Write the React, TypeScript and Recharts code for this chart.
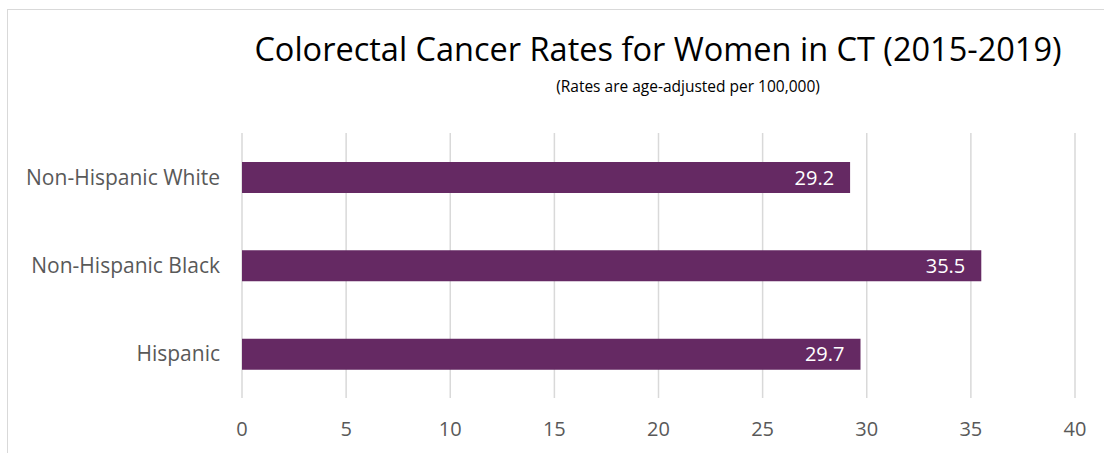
import React from "react";
import { BarChart, Bar, XAxis, YAxis, CartesianGrid, LabelList } from "recharts";

const categories = ["Non-Hispanic White", "Non-Hispanic Black", "Hispanic"];
const rates = [29.2, 35.5, 29.7];
const xTicks = [0, 5, 10, 15, 20, 25, 30, 35, 40];
const title = "Colorectal Cancer Rates for Women in CT (2015-2019)";
const subtitle = "(Rates are age-adjusted per 100,000)";

const data = categories.map((c, i) => ({ name: c, value: rates[i] }));

const FONT = "'Open Sans', 'Noto Sans', sans-serif";

export default function App() {
  return (
    <div style={{ position: "absolute", left: 0, top: 0, width: 1104, height: 453, background: "#fff", overflow: "hidden", fontFamily: FONT }}>
      <div style={{ position: "absolute", left: 7, top: 9, width: 1110, height: 460, border: "1.5px solid #d9d9d9", boxSizing: "border-box" }} />
      <BarChart
        width={1104}
        height={453}
        data={data}
        layout="vertical"
        margin={{ top: 133, right: 29, bottom: 25, left: 12 }}
        barSize={31}
        style={{ position: "absolute", left: 0, top: 0 }}
      >
        <text x={658} y={61} textAnchor="middle" fontSize={32.5} fill="#000" fontFamily={FONT}>{title}</text>
        <text x={688} y={92} textAnchor="middle" fontSize={15.5} fill="#000" fontFamily={FONT}>{subtitle}</text>
        <CartesianGrid horizontal={false} vertical={true} stroke="#d9d9d9" strokeWidth={1.5} />
        <XAxis
          type="number"
          domain={[0, 40]}
          ticks={xTicks}
          axisLine={false}
          tickLine={false}
          tickMargin={18}
          height={30}
          tick={{ fill: "#595959", fontSize: 20, fontFamily: FONT }}
          interval={0}
        />
        <YAxis
          type="category"
          dataKey="name"
          axisLine={false}
          tickLine={false}
          width={230}
          tickMargin={16}
          tick={{ fill: "#595959", fontSize: 21, fontFamily: FONT }}
        />
        <Bar dataKey="value" fill="#652963" isAnimationActive={false}>
          <LabelList dataKey="value" position="insideRight" offset={16} fill="#ffffff" fontSize={20} fontFamily={FONT} formatter={(v: any) => Number(v).toFixed(1)} />
        </Bar>
      </BarChart>
    </div>
  );
}
